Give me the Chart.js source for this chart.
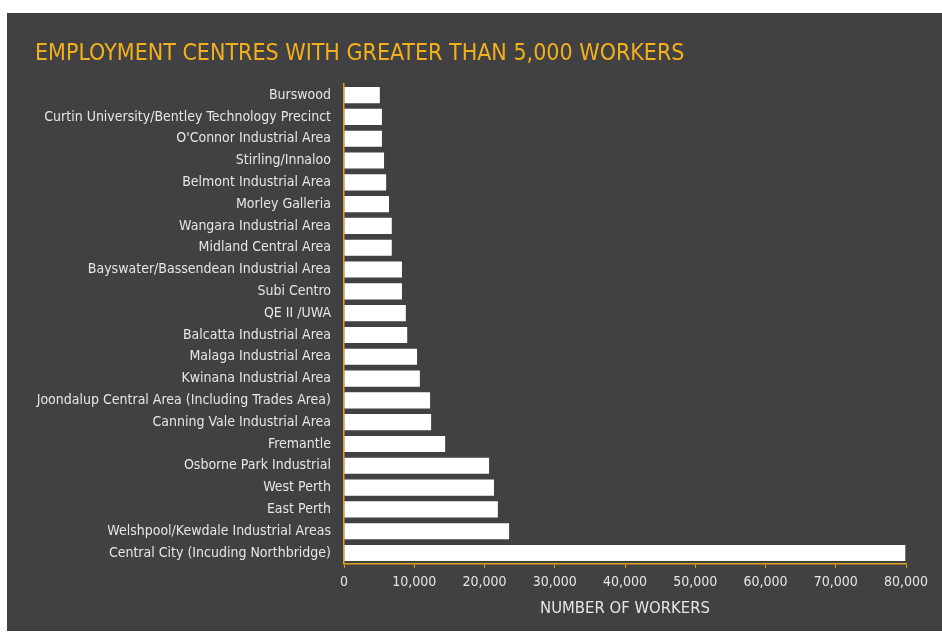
<!DOCTYPE html>
<html>
<head>
<meta charset="utf-8">
<script src="https://cdn.jsdelivr.net/npm/chart.js@4.4.1/dist/chart.umd.min.js"></script>
<style>
  html, body { margin: 0; padding: 0; background: #ffffff; }
  #panel {
    position: absolute; left: 7px; top: 13px;
    width: 935px; height: 618px;
    background: #414042;
  }
</style>
</head>
<body>
<div id="panel"><canvas id="barChart" width="935" height="618"></canvas></div>
<script>
// categories, top to bottom
const centres = [
  'Burswood',
  'Curtin University/Bentley Technology Precinct',
  "O'Connor Industrial Area",
  'Stirling/Innaloo',
  'Belmont Industrial Area',
  'Morley Galleria',
  'Wangara Industrial Area',
  'Midland Central Area',
  'Bayswater/Bassendean Industrial Area',
  'Subi Centro',
  'QE II /UWA',
  'Balcatta Industrial Area',
  'Malaga Industrial Area',
  'Kwinana Industrial Area',
  'Joondalup Central Area (Including Trades Area)',
  'Canning Vale Industrial Area',
  'Fremantle',
  'Osborne Park Industrial',
  'West Perth',
  'East Perth',
  'Welshpool/Kewdale Industrial Areas',
  'Central City (Incuding Northbridge)'
];

// number of workers
const workers = [
  5100, 5400, 5400, 5700, 6000, 6400, 6800, 6800, 8250, 8250, 8800,
  9000, 10400, 10800, 12250, 12400, 14400, 20650, 21350, 21900, 23500, 79900
];

const xTicks = [0, 10000, 20000, 30000, 40000, 50000, 60000, 70000, 80000];

const gold = '#e0a11c';
const fontFamily = "'DejaVu Sans Condensed', 'Roboto', sans-serif";

const ctx = document.getElementById('barChart').getContext('2d');
new Chart(ctx, {
  type: 'bar',
  data: {
    labels: centres,
    datasets: [{
      label: 'Number of workers',
      data: workers,
      backgroundColor: '#ffffff',
      borderWidth: 0,
      barPercentage: 0.74,
      categoryPercentage: 1.0
    }]
  },
  options: {
    indexAxis: 'y',
    responsive: false,
    animation: false,
    layout: {
      padding: { left: 28, right: 36, top: 27, bottom: 12 }
    },
    scales: {
      x: {
        min: 0,
        max: 80000,
        afterBuildTicks: axis => {
          axis.ticks = xTicks.map(v => ({ value: v }));
        },
        border: { display: true, color: gold, width: 1.5 },
        grid: { drawOnChartArea: false, drawTicks: true, tickLength: 4, color: gold },
        ticks: {
          color: '#e6e6e6',
          font: { family: fontFamily, size: 14 },
          padding: 6,
          callback: v => v.toLocaleString('en-US')
        },
        title: {
          display: true,
          text: 'NUMBER OF WORKERS',
          color: '#e6e6e6',
          font: { family: fontFamily, size: 16.5 },
          padding: { top: 2.5, bottom: 0 }
        }
      },
      y: {
        border: { display: true, color: gold, width: 1.5 },
        grid: { display: false },
        afterFit: axis => { axis.width = 309; },
        ticks: {
          color: '#e6e6e6',
          font: { family: fontFamily, size: 14 },
          padding: 5,
          autoSkip: false
        }
      }
    },
    plugins: {
      legend: { display: false },
      tooltip: { enabled: false },
      title: {
        display: true,
        text: 'EMPLOYMENT CENTRES WITH GREATER THAN 5,000 WORKERS',
        align: 'start',
        color: '#f4b01a',
        font: { family: fontFamily, size: 23, weight: 'normal' },
        padding: { top: 0, bottom: 16.6 }
      }
    }
  }
});
</script>
</body>
</html>
